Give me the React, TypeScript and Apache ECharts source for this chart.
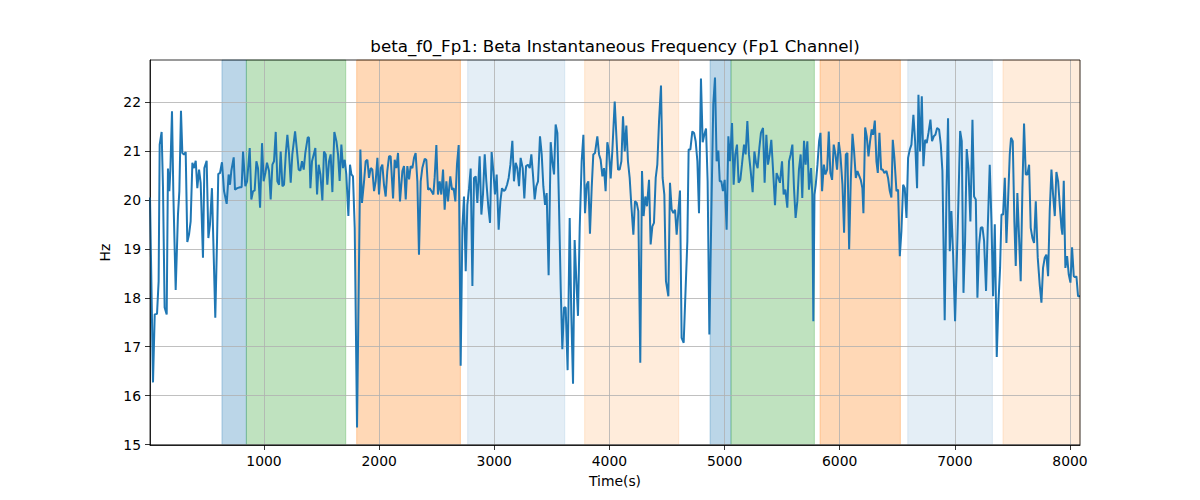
import React, { useEffect, useRef } from "react";
import * as echarts from "echarts";

const chartTitle = "beta_f0_Fp1: Beta Instantaneous Frequency (Fp1 Channel)";

const timeSec = [
  10, 36, 51, 71, 85, 94, 111, 123, 137, 155, 166, 178, 187, 201, 213, 233, 253, 265, 279, 291,
  305, 320, 334, 349, 363, 378, 392, 407, 421, 436, 450, 470, 482, 502, 517, 531, 548, 560, 577, 592,
  603, 618, 635, 653, 676, 693, 705, 716, 737, 748, 768, 792, 806, 818, 838, 853, 876, 890, 905, 919,
  934, 948, 966, 983, 997, 1012, 1026, 1044, 1058, 1073, 1087, 1102, 1116, 1131, 1145, 1160, 1174, 1189, 1203, 1217,
  1232, 1246, 1270, 1287, 1301, 1316, 1330, 1345, 1359, 1380, 1391, 1403, 1417, 1432, 1446, 1461, 1475, 1490, 1507, 1521,
  1536, 1550, 1565, 1579, 1594, 1611, 1629, 1643, 1657, 1672, 1686, 1701, 1715, 1733, 1747, 1759, 1773, 1788, 1808, 1837,
  1851, 1869, 1883, 1898, 1912, 1927, 1941, 1956, 1970, 1985, 1999, 2014, 2028, 2042, 2057, 2071, 2086, 2100, 2121, 2135,
  2150, 2164, 2181, 2202, 2216, 2231, 2245, 2260, 2274, 2289, 2303, 2317, 2332, 2346, 2361, 2375, 2396, 2410, 2425, 2439,
  2454, 2471, 2482, 2497, 2511, 2526, 2540, 2555, 2569, 2584, 2598, 2618, 2633, 2647, 2662, 2676, 2691, 2708, 2723, 2737,
  2752, 2766, 2781, 2795, 2810, 2824, 2839, 2853, 2873, 2888, 2902, 2917, 2931, 2949, 2963, 2977, 2992, 3006, 3021, 3038,
  3053, 3067, 3082, 3096, 3111, 3125, 3140, 3157, 3171, 3186, 3200, 3215, 3229, 3247, 3261, 3276, 3293, 3308, 3322, 3336,
  3351, 3365, 3380, 3397, 3412, 3426, 3441, 3455, 3472, 3490, 3504, 3519, 3533, 3548, 3562, 3577, 3591, 3606, 3620, 3637,
  3655, 3669, 3684, 3698, 3713, 3727, 3742, 3759, 3774, 3788, 3803, 3817, 3831, 3846, 3860, 3875, 3895, 3910, 3924, 3939,
  3953, 3967, 3982, 3996, 4011, 4025, 4046, 4060, 4075, 4089, 4104, 4118, 4133, 4147, 4161, 4176, 4190, 4208, 4222, 4237,
  4251, 4268, 4283, 4297, 4312, 4326, 4344, 4358, 4373, 4387, 4402, 4416, 4431, 4448, 4462, 4477, 4491, 4512, 4526, 4541,
  4555, 4570, 4584, 4599, 4613, 4627, 4645, 4662, 4677, 4688, 4703, 4720, 4735, 4749, 4764, 4778, 4795, 4810, 4824, 4839,
  4853, 4868, 4888, 4902, 4917, 4931, 4946, 4958, 4972, 4986, 5001, 5018, 5033, 5047, 5065, 5079, 5093, 5108, 5122, 5137,
  5151, 5169, 5183, 5198, 5212, 5227, 5244, 5259, 5273, 5287, 5302, 5316, 5334, 5348, 5363, 5377, 5392, 5406, 5421, 5438,
  5452, 5467, 5481, 5499, 5513, 5528, 5545, 5560, 5574, 5589, 5603, 5617, 5632, 5646, 5661, 5675, 5690, 5704, 5719, 5733,
  5751, 5762, 5771, 5781, 5792, 5807, 5821, 5833, 5847, 5862, 5876, 5891, 5905, 5919, 5934, 5948, 5963, 5977, 5992, 6006,
  6024, 6038, 6053, 6067, 6082, 6096, 6111, 6125, 6140, 6154, 6183, 6197, 6206, 6221, 6235, 6250, 6264, 6278, 6290, 6305,
  6319, 6331, 6345, 6360, 6374, 6388, 6406, 6420, 6435, 6449, 6461, 6475, 6493, 6507, 6522, 6536, 6551, 6565, 6580, 6594,
  6609, 6623, 6640, 6655, 6672, 6684, 6698, 6713, 6727, 6742, 6756, 6771, 6788, 6802, 6817, 6831, 6846, 6863, 6878, 6892,
  6912, 6927, 6941, 6956, 6970, 6985, 7002, 7017, 7031, 7046, 7060, 7075, 7089, 7103, 7118, 7135, 7153, 7167, 7182, 7196,
  7211, 7225, 7240, 7254, 7271, 7286, 7303, 7318, 7332, 7347, 7364, 7378, 7393, 7405, 7419, 7434, 7448, 7462, 7477, 7488,
  7503, 7517, 7529, 7543, 7558, 7572, 7587, 7601, 7616, 7630, 7645, 7659, 7674, 7688, 7703, 7720, 7737, 7752, 7766, 7781,
  7795, 7810, 7824, 7839, 7853, 7868, 7882, 7897, 7911, 7926, 7934, 7946, 7960, 7975, 7989, 8004, 8018, 8033, 8044, 8056,
  8070, 8087,
];

const betaHz = [
  20.05, 16.27, 17.66, 17.67, 18.34, 21.13, 21.39, 20.24, 17.8, 17.66, 20.64, 20.18, 20.62, 21.81, 20.1, 18.16, 19.7, 20.18, 21.82, 20.96,
  20.93, 20.98, 19.14, 19.29, 19.56, 20.76, 20.65, 20.8, 20.24, 20.62, 20.35, 18.82, 20.65, 20.8, 19.22, 19.5, 20.24, 19.16, 17.59, 19.16,
  20.53, 20.55, 20.77, 20.18, 19.92, 20.52, 20.31, 20.59, 20.87, 20.21, 20.24, 20.26, 20.26, 20.99, 20.28, 20.38, 21.06, 20.01, 20.18, 20.19,
  20.79, 20.65, 19.84, 21.16, 20.38, 20.55, 20.76, 20.59, 20.01, 20.72, 20.79, 21.39, 20.38, 20.31, 20.99, 20.28, 20.31, 20.93, 21.33, 20.96,
  20.35, 20.93, 21.4, 20.99, 20.62, 20.6, 20.79, 20.62, 20.96, 21.28, 21.27, 20.24, 20.79, 20.93, 21.06, 20.11, 20.72, 20.52, 19.99, 20.99,
  20.93, 20.31, 20.79, 20.93, 20.16, 21.39, 21.2, 20.93, 20.39, 21.13, 20.65, 20.82, 20.52, 19.67, 20.72, 20.52, 20.48, 19.43, 15.35, 21.03,
  19.94, 20.38, 20.79, 20.82, 20.45, 20.65, 20.62, 20.18, 20.38, 20.86, 20.11, 20.65, 20.72, 20.31, 20.07, 20.59, 20.89, 20.89, 20.03, 20.82,
  20.65, 20.96, 19.97, 20.59, 20.69, 20.01, 20.69, 20.42, 20.69, 20.65, 20.86, 20.96, 20.38, 18.88, 20.38, 20.65, 20.84, 20.82, 20.21, 20.24,
  20.18, 20.11, 20.45, 21.12, 20.11, 20.38, 20.11, 20.62, 19.8, 20.38, 19.97, 20.48, 20.21, 20.24, 19.97, 20.72, 21.12, 16.61, 19.43, 20.07,
  18.54, 19.9, 20.24, 20.64, 18.24, 20.45, 20.48, 19.94, 20.89, 19.7, 20.11, 20.93, 20.38, 19.84, 19.53, 20.98, 20.59, 20.11, 20.52, 19.39,
  19.97, 20.24, 20.18, 20.21, 20.31, 20.45, 20.72, 21.21, 20.38, 20.76, 20.65, 20.28, 20.86, 20.65, 20.03, 20.69, 20.72, 20.65, 20.93, 20.52,
  20.01, 20.28, 20.38, 21.3, 20.93, 20.28, 19.9, 20.14, 18.46, 21.18, 20.79, 20.52, 21.54, 21.37, 19.9, 18.2, 16.95, 17.8, 17.8, 16.52,
  19.63, 17.66, 16.24, 19.18, 18.34, 17.63, 19.43, 20.79, 21.33, 19.73, 20.31, 20.38, 19.31, 20.24, 20.93, 20.96, 21.3, 20.93, 20.82, 20.48,
  20.65, 20.18, 21.18, 20.99, 20.44, 20.99, 22.01, 21.33, 20.62, 20.62, 20.79, 21.71, 20.99, 21.52, 20.79, 20.45, 19.9, 19.29, 19.97, 19.94,
  19.77, 16.67, 20.59, 19.67, 20.07, 19.87, 20.41, 19.09, 19.46, 19.53, 20.45, 20.72, 21.61, 22.34, 20.45, 20.11, 18.34, 18.03, 20.35, 19.8,
  19.73, 19.8, 19.29, 19.77, 20.19, 17.18, 17.08, 18.2, 19.16, 21.03, 21.03, 21.4, 21.37, 21.2, 20.79, 19.73, 22.48, 21.18, 21.33, 21.46,
  20.38, 17.25, 20.11, 21.95, 22.5, 20.79, 21.01, 20.38, 20.38, 20.18, 20.41, 19.39, 21.3, 20.79, 21.57, 20.31, 20.93, 21.13, 20.35, 20.41,
  20.72, 21.13, 20.93, 21.61, 20.93, 20.59, 20.16, 20.99, 20.76, 20.65, 21.06, 21.37, 21.47, 20.35, 21.33, 20.72, 20.93, 21.23, 20.62, 19.89,
  20.55, 20.45, 20.35, 20.79, 20.11, 20.21, 19.84, 20.79, 20.93, 21.13, 20.24, 19.63, 19.97, 20.62, 20.93, 20.04, 21.21, 20.72, 21.2, 20.21,
  20.65, 20.11, 17.52, 20.11, 20.31, 20.72, 21.2, 21.37, 20.18, 20.72, 20.52, 20.62, 21.4, 20.55, 20.41, 21.13, 20.93, 20.62, 21.18, 20.93,
  20.31, 19.33, 20.93, 20.96, 18.99, 20.38, 21.35, 20.99, 20.45, 20.59, 20.41, 20.24, 19.73, 21.48, 21.3, 20.89, 21.2, 21.44, 21.33, 21.62,
  20.79, 20.55, 21.37, 20.62, 20.62, 20.55, 20.59, 20.45, 20.18, 20.05, 21.23, 20.86, 20.18, 20.21, 18.85, 19.36, 20.31, 20.24, 19.63, 20.86,
  21.03, 21.13, 21.74, 21.2, 20.24, 22.15, 20.99, 22.12, 20.69, 21.23, 21.16, 21.37, 21.64, 21.2, 21.3, 21.33, 21.47, 21.44, 21.13, 20.59,
  17.54, 20.11, 21.67, 18.95, 19.77, 18.88, 17.52, 18.75, 19.97, 21.41, 21.2, 18.1, 19.16, 21.04, 20.65, 19.56, 21.64, 20.07, 20.01, 18.0,
  19.09, 19.43, 19.44, 19.16, 18.14, 19.43, 20.72, 19.56, 18.03, 19.5, 16.79, 17.86, 18.61, 19.7, 19.7, 20.45, 19.12, 19.97, 20.93, 21.27,
  21.2, 19.56, 18.65, 20.14, 19.22, 18.34, 20.24, 21.56, 20.52, 20.52, 20.72, 19.43, 19.22, 19.12, 19.97, 18.82, 18.27, 17.9, 18.61, 18.82,
  18.88, 18.44, 19.77, 20.62, 20.11, 19.67, 20.57, 20.38, 19.9, 19.43, 19.29, 20.39, 18.61, 18.85, 18.48, 18.31, 19.03, 18.44, 18.42, 18.44,
  18.03, 18.03,
];

const xTicks = [1000, 2000, 3000, 4000, 5000, 6000, 7000, 8000];
const yTicks = [15, 16, 17, 18, 19, 20, 21, 22];

const spanStarts = [635, 847, 1805, 2769, 3785, 4874, 5056, 5829, 6591, 7418];
const spanEnds = [847, 1710, 2706, 3612, 4602, 5056, 5780, 6527, 7326, 8087];
const spanColors = [
  "rgba(31,119,180,0.3)",
  "rgba(44,160,44,0.3)",
  "rgba(255,127,14,0.3)",
  "rgba(31,119,180,0.12)",
  "rgba(255,127,14,0.15)",
  "rgba(31,119,180,0.3)",
  "rgba(44,160,44,0.3)",
  "rgba(255,127,14,0.3)",
  "rgba(31,119,180,0.12)",
  "rgba(255,127,14,0.15)",
];

const FONT = "DejaVu Sans";

export default function App() {
  const ref = useRef<HTMLDivElement>(null);
  useEffect(() => {
    if (!ref.current) return;
    const chart = echarts.init(ref.current, undefined, { renderer: "svg" });
    const lineData = timeSec.map((t, i) => [t, betaHz[i]]);
    const areas = spanStarts.map((s, i) => [
      {
        xAxis: s,
        itemStyle: { color: spanColors[i], borderColor: spanColors[i], borderWidth: 1 },
      },
      { xAxis: spanEnds[i] },
    ]);
    const axisCommon = {
      axisLine: { show: true, onZero: false, lineStyle: { color: "#000", width: 0.8 } },
      splitLine: { show: true, lineStyle: { color: "#b0b0b0", width: 0.8 } },
    };
    chart.setOption({
      animation: false,
      grid: {
        left: 150,
        right: 120,
        top: 60,
        bottom: 55,
        show: true,
        borderColor: "#000",
        borderWidth: 0.8,
        backgroundColor: "transparent",
        z: 5,
      },
      graphic: [
        {
          type: "text",
          x: 615,
          y: 46,
          z: 10,
          style: {
            text: chartTitle,
            font: `16.7px "${FONT}"`,
            fill: "#000",
            align: "center",
            verticalAlign: "middle",
          },
        },
      ],
      xAxis: {
        type: "value",
        min: 10,
        max: 8087,
        z: 1.5,
        ...axisCommon,
        axisTick: {
          show: true,
          length: 5,
          customValues: xTicks,
          lineStyle: { color: "#000", width: 0.8 },
        },
        axisLabel: {
          customValues: xTicks,
          formatter: (v: number) => String(v),
          color: "#000",
          fontSize: 13.9,
          fontFamily: FONT,
          margin: 9,
        },
        name: "Time(s)",
        nameLocation: "middle",
        nameGap: 29,
        nameTextStyle: { color: "#000", fontSize: 13.9, fontFamily: FONT },
      },
      yAxis: {
        type: "value",
        min: 14.99,
        max: 22.86,
        z: 1.5,
        ...axisCommon,
        axisTick: {
          show: true,
          length: 5,
          customValues: yTicks,
          lineStyle: { color: "#000", width: 0.8 },
        },
        axisLabel: {
          customValues: yTicks,
          formatter: (v: number) => String(v),
          color: "#000",
          fontSize: 13.9,
          fontFamily: FONT,
          margin: 9,
        },
        name: "Hz",
        nameLocation: "middle",
        nameGap: 31,
        nameTextStyle: { color: "#000", fontSize: 13.9, fontFamily: FONT },
      },
      series: [
        {
          type: "line",
          name: "spans",
          z: 1,
          silent: true,
          data: [
            [timeSec[0], betaHz[0]],
            [timeSec[timeSec.length - 1], betaHz[betaHz.length - 1]],
          ],
          showSymbol: false,
          symbol: "none",
          lineStyle: { opacity: 0, width: 0 },
          markArea: { silent: true, data: areas },
        },
        {
          type: "line",
          name: "beta",
          z: 3,
          data: lineData,
          showSymbol: false,
          symbol: "none",
          clip: true,
          lineStyle: { color: "#1f77b4", width: 2 },
          itemStyle: { color: "#1f77b4" },
        },
      ],
    });
    return () => chart.dispose();
  }, []);
  return (
    <div
      ref={ref}
      style={{ position: "fixed", left: 0, top: 0, width: 1200, height: 500, background: "#fff" }}
    />
  );
}
